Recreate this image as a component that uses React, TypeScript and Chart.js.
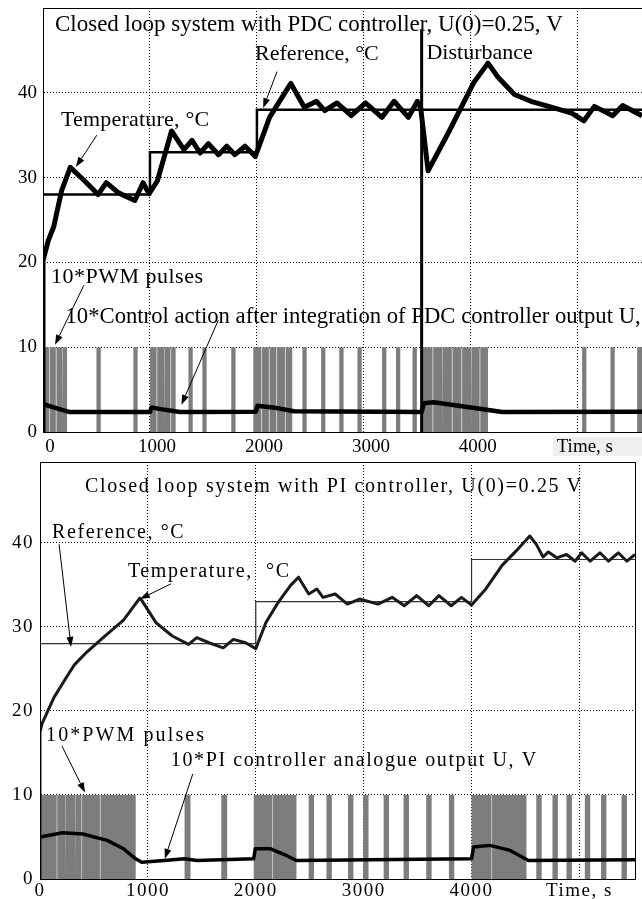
import React, { useEffect, useRef } from "react";
import { Chart, registerables } from "chart.js";

Chart.register(...registerables);

// ================= shared axis ticks =================
const timeTicks = [0, 1000, 2000, 3000, 4000, 5000];
const timeAxisLabel = "Time, s";
const tempTicks = [0, 10, 20, 30, 40];

// ================= Panel A: PDC controller =================
const pdcTimeMax = 5600;
const pdcTempMax = 50;
const pdcTempT = [0, 0, 50, 100, 175, 255, 390, 515, 592, 706, 859, 935, 992, 1069, 1202, 1317, 1393, 1469, 1546, 1641, 1718, 1794, 1889, 1985, 2118, 2271, 2317, 2443, 2557, 2634, 2748, 2882, 3015, 3168, 3282, 3416, 3500, 3531, 3600, 3798, 4027, 4160, 4256, 4408, 4561, 4752, 4943, 5057, 5155, 5326, 5419, 5600];
const pdcTempV = [0, 20.2, 22.6, 24.2, 28.5, 31.2, 29.6, 28.0, 29.4, 28.2, 27.3, 29.4, 28.1, 29.6, 35.5, 33.3, 34.4, 32.9, 34.0, 32.7, 33.7, 32.7, 33.7, 32.5, 37.1, 40.2, 41.1, 38.3, 39.0, 37.9, 38.8, 37.3, 38.8, 37.1, 39.0, 37.1, 39.0, 38.2, 30.8, 35.5, 41.2, 43.5, 41.8, 39.8, 39.0, 38.3, 37.6, 36.7, 38.4, 37.3, 38.5, 37.3];
const pdcRefT = [0, 1000, 2000];
const pdcRefV = [28, 33, 38];
const pdcCtrlT = [0, 100, 250, 1000, 1015, 1100, 1280, 1990, 2004, 2150, 2347, 3540, 3560, 3650, 4000, 4294, 5600];
const pdcCtrlV = [3.3, 2.9, 2.35, 2.35, 2.9, 2.7, 2.35, 2.4, 3.1, 2.9, 2.45, 2.35, 3.4, 3.5, 2.9, 2.35, 2.4];
const pdcPwmOn = [0, 66, 126, 186, 500, 845, 1000, 1068, 1138, 1198, 1360, 1490, 1760, 1966, 2048, 2118, 2188, 2268, 2425, 2600, 2770, 2940, 3170, 3300, 3455, 3550, 3648, 3738, 3828, 3918, 4008, 4088, 5040, 5305, 5555];
const pdcPwmOff = [60, 120, 180, 225, 540, 885, 1062, 1132, 1192, 1240, 1400, 1530, 1800, 2042, 2112, 2182, 2262, 2330, 2465, 2640, 2810, 2980, 3210, 3340, 3495, 3642, 3732, 3822, 3912, 4002, 4082, 4160, 5080, 5345, 5600];
const pdcPwmLevel = 10;
const pdcDisturbanceT = 3540;
const pdcDisturbanceTop = 47.5;

// ================= Panel B: PI controller =================
const piTimeMax = 5515;
const piTempMax = 49.6;
const piTempT = [0, 0, 20, 130, 245, 320, 434, 585, 774, 925, 940, 1075, 1226, 1377, 1453, 1566, 1698, 1792, 1906, 2000, 2094, 2208, 2321, 2396, 2491, 2566, 2623, 2736, 2849, 2962, 3132, 3264, 3377, 3491, 3604, 3698, 3811, 3906, 4000, 4132, 4283, 4434, 4540, 4600, 4663, 4712, 4790, 4880, 4960, 5020, 5100, 5190, 5270, 5360, 5440, 5515];
const piTempV = [0, 17.5, 18.5, 21.6, 24.0, 25.5, 27.0, 28.7, 30.8, 33.4, 33.2, 30.5, 28.9, 27.9, 28.7, 28.1, 27.5, 28.5, 28.1, 27.4, 30.5, 32.9, 34.9, 35.9, 33.9, 34.5, 33.5, 33.9, 32.7, 33.3, 32.7, 33.5, 32.5, 33.7, 32.5, 33.7, 32.5, 33.5, 32.6, 34.5, 37.3, 39.3, 40.8, 39.8, 38.3, 38.9, 38.2, 38.6, 37.8, 38.8, 37.8, 38.8, 37.8, 38.8, 37.8, 38.6];
const piRefT = [0, 2000, 4000];
const piRefV = [28, 33, 38];
const piCtrlT = [0, 208, 396, 623, 774, 887, 943, 1151, 1340, 1453, 1981, 1995, 2132, 2283, 2377, 4000, 4019, 4170, 4358, 4528, 5515];
const piCtrlV = [5.0, 5.5, 5.35, 4.6, 3.6, 2.4, 2.0, 2.2, 2.4, 2.2, 2.4, 3.6, 3.6, 2.8, 2.2, 2.4, 3.8, 4.0, 3.4, 2.2, 2.3];
const piPwmOn = [0, 160, 240, 330, 390, 560, 1340, 1680, 1981, 2160, 2490, 2655, 2855, 2995, 3185, 3370, 3580, 3790, 4000, 4190, 4600, 4750, 4880, 5050, 5200, 5390, 5520];
const piPwmOff = [155, 235, 325, 385, 555, 887, 1395, 1735, 2155, 2377, 2540, 2705, 2905, 3045, 3235, 3420, 3630, 3840, 4185, 4509, 4650, 4800, 4930, 5100, 5250, 5440, 5560];
const piPwmLevel = 10;

// ---------------- helpers ----------------
const zip = (t: number[], v: number[]) => t.map((x, i) => ({ x, y: v[i] }));
const steps = (t: number[], v: number[], end: number) => {
  const pts: { x: number; y: number }[] = [];
  t.forEach((x, i) => {
    pts.push({ x, y: v[i] });
    pts.push({ x: i < t.length - 1 ? t[i + 1] : end, y: v[i] });
  });
  return pts;
};
const pulses = (on: number[], off: number[], level: number) => {
  const pts: { x: number; y: number }[] = [];
  on.forEach((s, i) => {
    pts.push({ x: s, y: 0 }, { x: s, y: level }, { x: off[i], y: level }, { x: off[i], y: 0 });
  });
  return pts;
};

const SERIF = '"Liberation Serif", "Times New Roman", serif';
const GRAY = "#7d7d7d";

type TextSpec = { text: string; t: number; v: number; size: number; spacing: number };
type ArrowSpec = [number, number, number, number];

function annotations(texts: TextSpec[], arrows: ArrowSpec[], tickSpacing: string, timeBox: boolean) {
  return {
    id: "panelAnnotations",
    beforeDraw(chart: any) {
      const { ctx, chartArea } = chart;
      ctx.save();
      ctx.fillStyle = "#fff";
      ctx.fillRect(0, 0, chart.width, chart.height);
      if (timeBox) {
        const px = chart.scales.x.getPixelForValue(5000);
        ctx.fillStyle = "#efefef";
        ctx.fillRect(px - 25, chartArea.bottom + 5, 90, 23);
      }
      ctx.restore();
      ctx.letterSpacing = tickSpacing;
    },
    afterDraw(chart: any) {
      const { ctx, chartArea } = chart;
      const xs = chart.scales.x;
      const ys = chart.scales.y;
      ctx.save();
      ctx.strokeStyle = "#000";
      ctx.lineWidth = 1;
      ctx.strokeRect(chartArea.left + 0.5, chartArea.top + 0.5, chartArea.right - chartArea.left, chartArea.bottom - chartArea.top);
      ctx.fillStyle = "#000";
      ctx.textAlign = "left";
      ctx.textBaseline = "middle";
      for (const s of texts) {
        ctx.font = `${s.size}px ${SERIF}`;
        ctx.letterSpacing = `${s.spacing}px`;
        ctx.fillText(s.text, xs.getPixelForValue(s.t), ys.getPixelForValue(s.v));
      }
      for (const a of arrows) {
        const x1 = xs.getPixelForValue(a[0]);
        const y1 = ys.getPixelForValue(a[1]);
        const x2 = xs.getPixelForValue(a[2]);
        const y2 = ys.getPixelForValue(a[3]);
        const ang = Math.atan2(y2 - y1, x2 - x1);
        const L = 10;
        const W = 3.5;
        const bx = x2 - L * Math.cos(ang);
        const by = y2 - L * Math.sin(ang);
        ctx.beginPath();
        ctx.moveTo(x1, y1);
        ctx.lineTo(bx, by);
        ctx.stroke();
        ctx.beginPath();
        ctx.moveTo(x2, y2);
        ctx.lineTo(bx + W * Math.sin(ang), by - W * Math.cos(ang));
        ctx.lineTo(bx - W * Math.sin(ang), by + W * Math.cos(ang));
        ctx.closePath();
        ctx.fill();
      }
      ctx.restore();
    },
  };
}

function baseScales(o: {
  xMax: number; yMax: number; yWidth: number; xHeight: number; labelOffset: number; xPad: number; fontSize: number;
}) {
  const font = { family: SERIF, size: o.fontSize };
  return {
    x: {
      type: "linear",
      min: 0,
      max: o.xMax,
      afterFit: (s: any) => { s.height = o.xHeight; s.paddingLeft = 0; s.paddingRight = 0; },
      afterBuildTicks: (s: any) => { s.ticks = timeTicks.map((value) => ({ value })); },
      ticks: {
        autoSkip: false, maxRotation: 0, minRotation: 0,
        padding: o.xPad, labelOffset: o.labelOffset, color: "#000", font,
        callback: (v: number) => (v === 5000 ? timeAxisLabel : String(v)),
      },
      grid: { color: "#000", lineWidth: 1, drawTicks: false },
      border: { display: true, color: "#000", dash: [1, 2] },
    },
    y: {
      type: "linear",
      min: 0,
      max: o.yMax,
      afterFit: (s: any) => { s.width = o.yWidth; s.paddingTop = 0; s.paddingBottom = 0; },
      afterBuildTicks: (s: any) => { s.ticks = tempTicks.map((value) => ({ value })); },
      ticks: {
        autoSkip: false, padding: 6, color: "#000", font,
        callback: (v: number) => String(v),
      },
      grid: { color: "#000", lineWidth: 1, drawTicks: false },
      border: { display: true, color: "#000", dash: [1, 2] },
    },
  };
}

const commonOptions = {
  responsive: false,
  animation: false,
  events: [],
  elements: { point: { radius: 0 }, line: { tension: 0 } },
  plugins: { legend: { display: false }, tooltip: { enabled: false } },
};

function pdcConfig(): any {
  const texts: TextSpec[] = [
    { text: "Closed loop system with PDC controller, U(0)=0.25, V", t: 112, v: 48.0, size: 23, spacing: 0 },
    { text: "Reference, \u00B0C", t: 1983, v: 44.5, size: 22, spacing: 0 },
    { text: "Disturbance", t: 3585, v: 44.7, size: 22, spacing: 0 },
    { text: "Temperature, \u00B0C", t: 168, v: 36.8, size: 22, spacing: 0.2 },
    { text: "10*PWM pulses", t: 74, v: 18.3, size: 22, spacing: 0.5 },
    { text: "10*Control action after integration of PDC controller output U, V", t: 210, v: 13.6, size: 22.7, spacing: 0 },
  ];
  const arrows: ArrowSpec[] = [
    [503, 35.0, 307, 31.25],
    [2188, 42.5, 2058, 38.2],
    [382, 17.3, 112, 10.3],
    [1639, 13.2, 1294, 3.2],
  ];
  return {
    type: "line",
    data: {
      datasets: [
        { label: "Temperature", data: zip(pdcTempT, pdcTempV), borderColor: "#000", borderWidth: 5, borderJoinStyle: "round", order: 1 },
        { label: "Disturbance", data: [{ x: pdcDisturbanceT, y: 0 }, { x: pdcDisturbanceT, y: pdcDisturbanceTop }], borderColor: "#000", borderWidth: 3, order: 2 },
        { label: "Reference", data: steps(pdcRefT, pdcRefV, pdcTimeMax), borderColor: "#000", borderWidth: 2.5, order: 3 },
        { label: "Control", data: zip(pdcCtrlT, pdcCtrlV), borderColor: "#000", borderWidth: 4.5, borderJoinStyle: "round", order: 4 },
        { label: "PWM", data: pulses(pdcPwmOn, pdcPwmOff, pdcPwmLevel), borderColor: GRAY, backgroundColor: GRAY, borderWidth: 0, fill: "origin", order: 5 },
      ],
    },
    options: {
      ...commonOptions,
      layout: { padding: { top: 8, right: 0, left: 0, bottom: 0 } },
      scales: baseScales({ xMax: pdcTimeMax, yMax: pdcTempMax, yWidth: 43, xHeight: 24, labelOffset: 7, xPad: 4, fontSize: 19 }),
    },
    plugins: [annotations(texts, arrows, "0px", true)],
  };
}

function piConfig(): any {
  const texts: TextSpec[] = [
    { text: "Closed loop system with PI controller, U(0)=0.25 V", t: 417, v: 46.6, size: 20, spacing: 1.65 },
    { text: "Reference, \u00B0C", t: 112, v: 41.2, size: 20, spacing: 1.6 },
    { text: "Temperature,  \u00B0C", t: 815, v: 36.5, size: 20, spacing: 1.6 },
    { text: "10*PWM pulses", t: 56, v: 17.0, size: 20, spacing: 2.1 },
    { text: "10*PI controller analogue output U, V", t: 1213, v: 14.1, size: 20, spacing: 1.6 },
  ];
  const arrows: ArrowSpec[] = [
    [177, 39.8, 288, 27.6],
    [1213, 35.1, 926, 33.3],
    [204, 15.8, 417, 10.3],
    [1416, 12.5, 1157, 2.4],
  ];
  return {
    type: "line",
    data: {
      datasets: [
        { label: "Temperature", data: zip(piTempT, piTempV), borderColor: "#1a1a1a", borderWidth: 3, borderJoinStyle: "round", order: 1 },
        { label: "Reference", data: steps(piRefT, piRefV, piTimeMax), borderColor: "#333", borderWidth: 1.2, order: 2 },
        { label: "Control", data: zip(piCtrlT, piCtrlV), borderColor: "#000", borderWidth: 3.5, borderJoinStyle: "round", order: 3 },
        { label: "PWM", data: pulses(piPwmOn, piPwmOff, piPwmLevel), borderColor: GRAY, backgroundColor: GRAY, borderWidth: 0, fill: "origin", order: 4 },
      ],
    },
    options: {
      ...commonOptions,
      layout: { padding: { top: 6, right: 7, left: 0, bottom: 0 } },
      scales: baseScales({ xMax: piTimeMax, yMax: piTempMax, yWidth: 40, xHeight: 20, labelOffset: 0, xPad: 1, fontSize: 19 }),
    },
    plugins: [annotations(texts, arrows, "1.5px", false)],
  };
}

export default function App() {
  const topRef = useRef<HTMLCanvasElement>(null);
  const botRef = useRef<HTMLCanvasElement>(null);
  useEffect(() => {
    const a = new Chart(topRef.current as HTMLCanvasElement, pdcConfig());
    const b = new Chart(botRef.current as HTMLCanvasElement, piConfig());
    return () => {
      a.destroy();
      b.destroy();
    };
  }, []);
  return (
    <div style={{ position: "absolute", left: 0, top: 0, width: 642, height: 899, background: "#fff", overflow: "hidden" }}>
      <canvas ref={topRef} width={642} height={456} style={{ position: "absolute", left: 0, top: 0, display: "block" }} />
      <canvas ref={botRef} width={642} height={443} style={{ position: "absolute", left: 0, top: 456, display: "block" }} />
    </div>
  );
}
